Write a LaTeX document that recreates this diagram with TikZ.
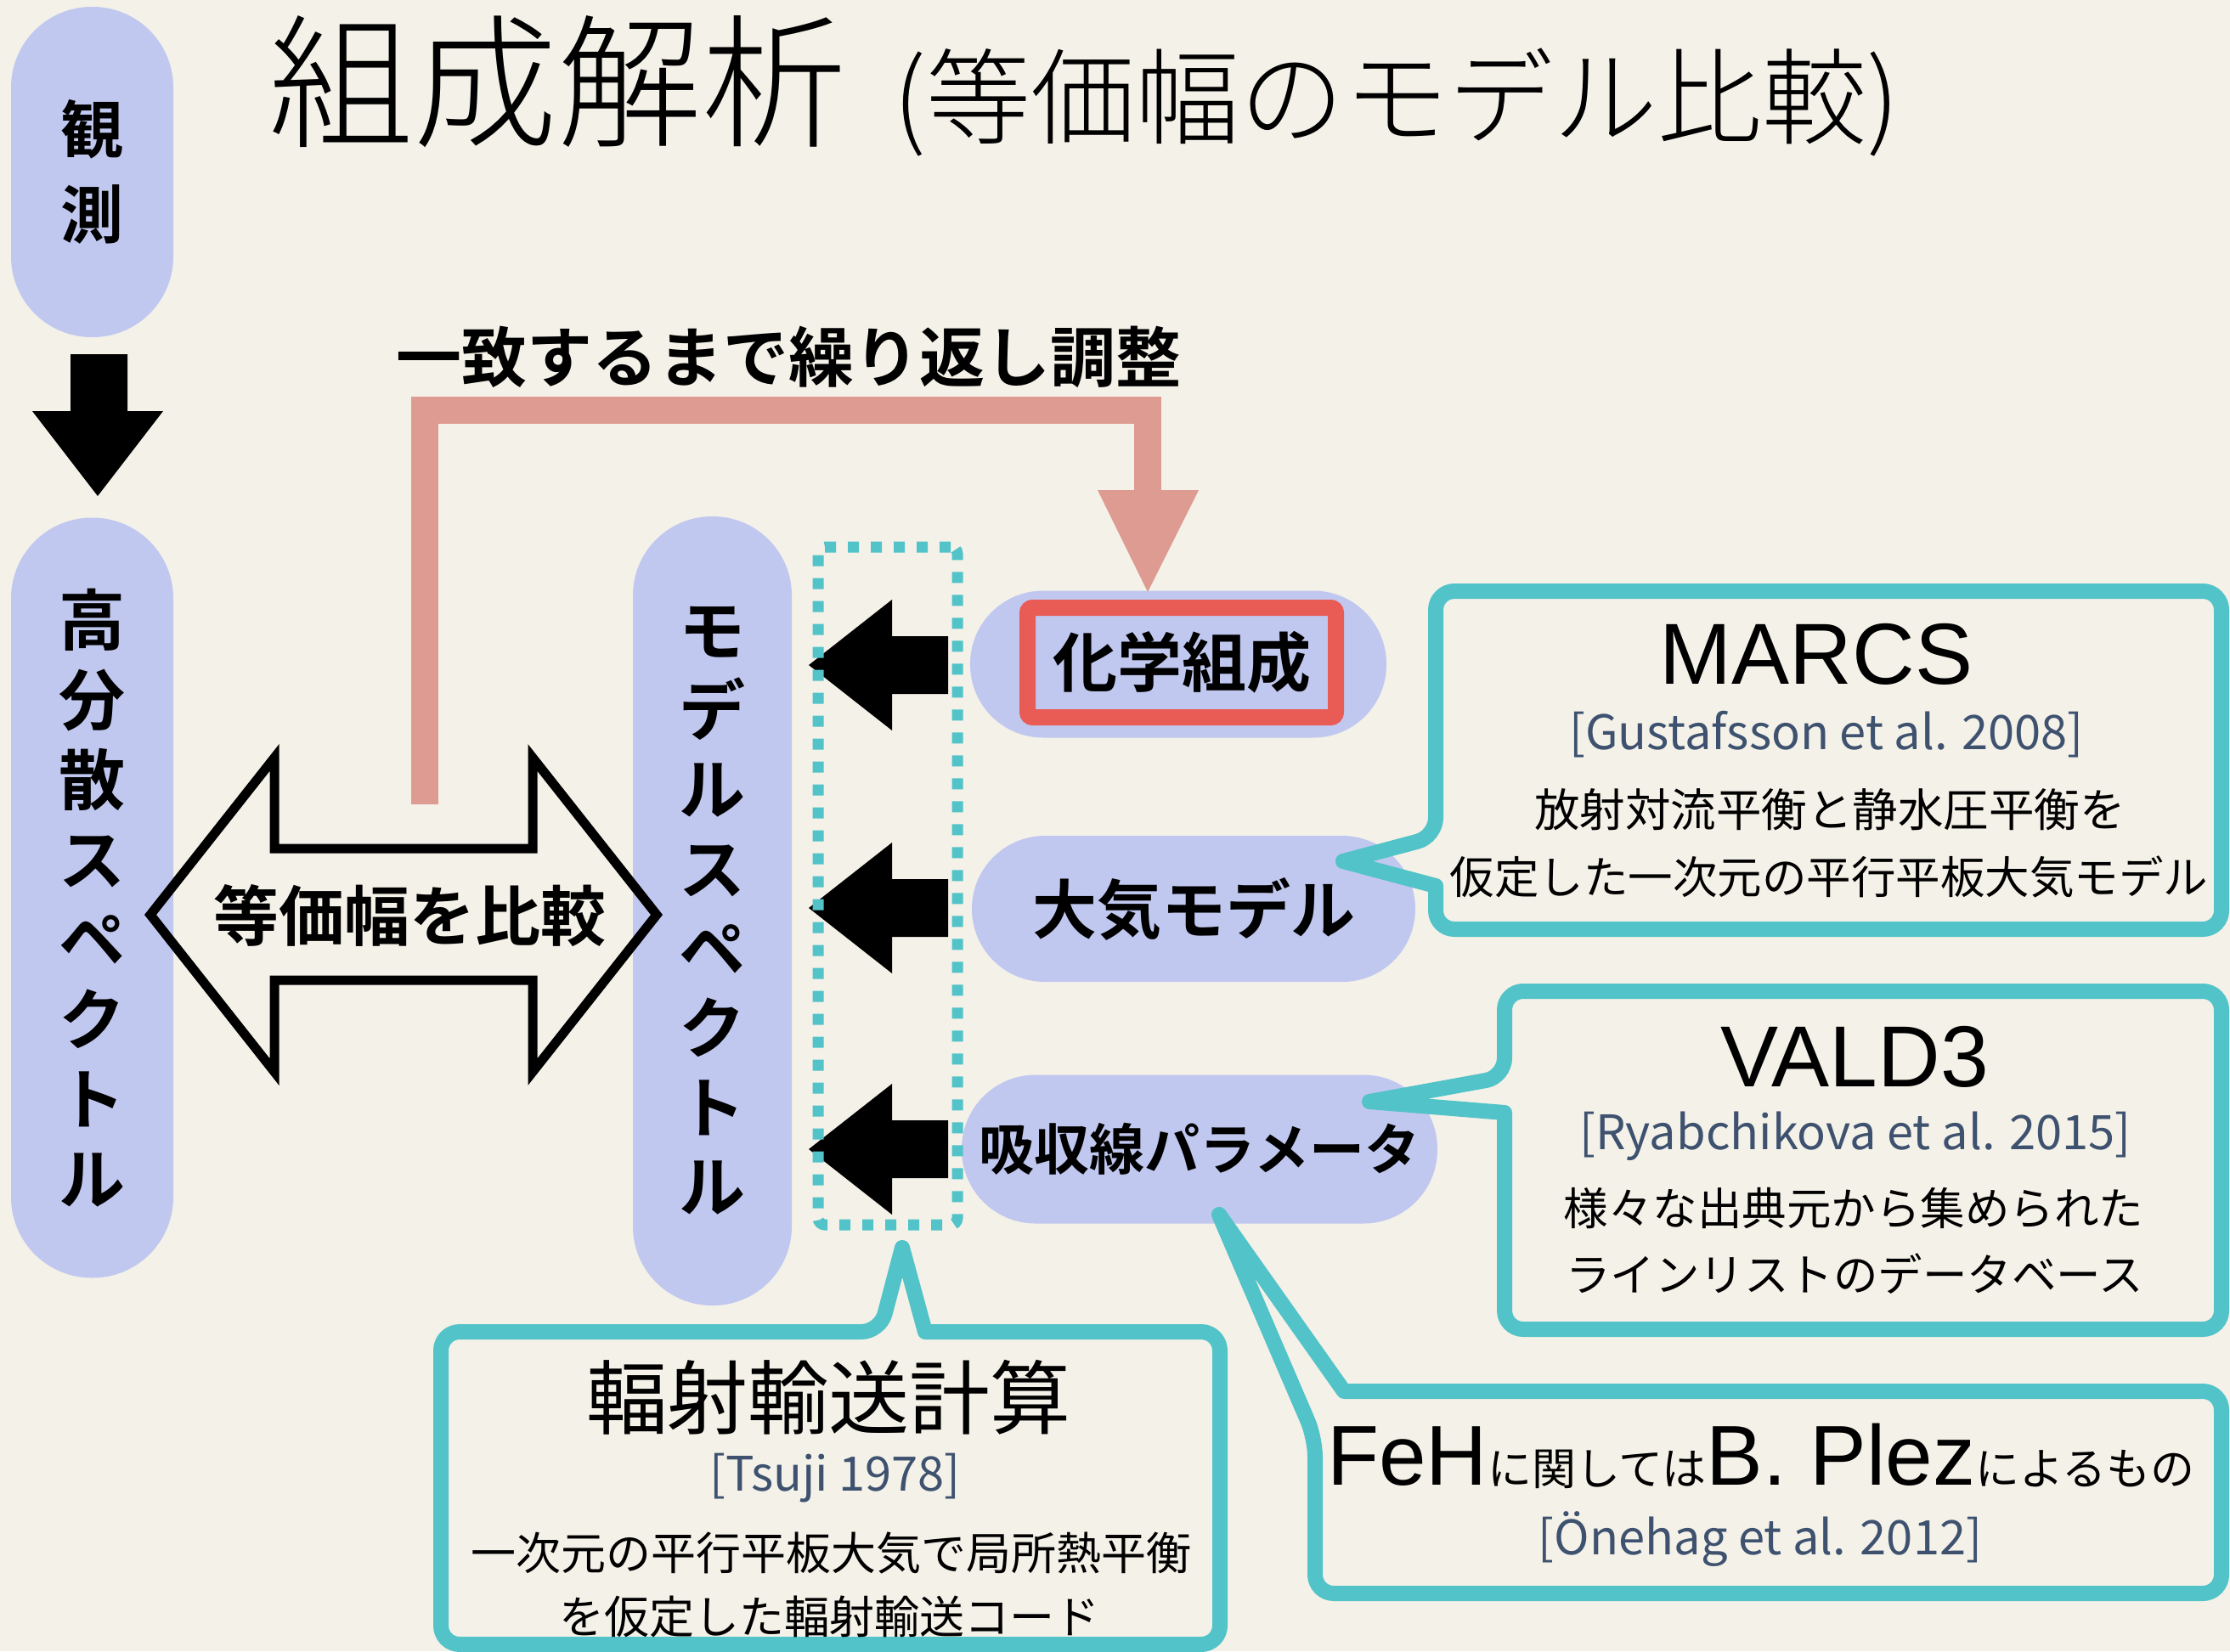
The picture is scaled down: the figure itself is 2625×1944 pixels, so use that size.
\documentclass[tikz,border=0pt]{standalone}
\usepackage{fontspec}
\usetikzlibrary{calc}
\IfFontExistsTF{Noto Sans CJK JP Light}{\newfontfamily\jpl{Noto Sans CJK JP Light}}{\newfontfamily\jpl{Noto Sans CJK JP}}
\IfFontExistsTF{Noto Sans CJK JP Bold}{\newfontfamily\jpb{Noto Sans CJK JP Bold}}{\newfontfamily\jpb{Noto Sans CJK JP}[FakeBold=2]}
\newfontfamily\jpr{Noto Sans CJK JP}
\newfontfamily\lat{Liberation Sans}
\newcommand\myfs[1]{\fontsize{#1}{#1}\selectfont}
\definecolor{bgc}{RGB}{244,241,232}
\definecolor{pillc}{RGB}{192,200,240}
\definecolor{tealc}{RGB}{82,195,200}
\definecolor{pinkc}{RGB}{222,155,146}
\definecolor{redc}{RGB}{233,92,86}
\definecolor{citec}{RGB}{62,82,112}
\tikzset{
  pillbox/.style={fill=pillc, inner sep=0pt},
  callout/.style={draw=tealc, line width=18pt, line join=round},
  cite/.style={font=\jpr\myfs{56}, text=citec},
  blockarrow/.style={fill=black},
}
\begin{document}
\begin{tikzpicture}[x=1pt,y=-1pt]
\useasboundingbox (0,0) rectangle (2625,1944);
\fill[bgc] (0,0) rectangle (2625,1944);

% pills
\node[pillbox, minimum width=191pt, minimum height=389pt, rounded corners=95pt,
      font=\jpb\fontsize{74}{100}\selectfont, align=center] (obs) at (108.5,202.5) {観\\測};
\node[pillbox, minimum width=191pt, minimum height=895pt, rounded corners=95pt,
      font=\jpb\fontsize{78}{94}\selectfont, align=center] (hires) at (108.5,1057) {高\\分\\散\\ス\\ペ\\ク\\ト\\ル};
\node[pillbox, minimum width=187pt, minimum height=929pt, rounded corners=93pt,
      font=\jpb\fontsize{78}{93.6}\selectfont, align=center] (model) at (838.5,1072.5) {モ\\デ\\ル\\ス\\ペ\\ク\\ト\\ル};
\node[pillbox, minimum width=490pt, minimum height=173pt, rounded corners=86pt] (chem) at (1387,782) {};
\node[pillbox, minimum width=522pt, minimum height=172pt, rounded corners=86pt,
      font=\jpb\myfs{76}] (atm) at (1405,1070) {大気モデル};
\node[pillbox, minimum width=560pt, minimum height=175pt, rounded corners=87pt,
      font=\jpb\myfs{65}] (lines) at (1412,1353) {吸収線パラメータ};

% observation -> high dispersion spectrum
\fill (83,417) -- (150,417) -- (150,484) -- (192,484) -- (115,584) -- (38,484) -- (83,484) -- cycle;

% hollow double arrow
\draw[line width=11pt, line join=miter] (177,1077) -- (323,892) -- (323,999) -- (627,999) -- (627,892)
   -- (773,1077) -- (627,1262) -- (627,1154) -- (323,1154) -- (323,1262) -- cycle;
\node[font=\jpb\myfs{77}] (cmp) at (482,1078) {等価幅を比較};

% feedback loop
\coordinate (fbstart) at (500,947);
\coordinate (fbend) at (1351,580);
\draw[pinkc, line width=32pt] (fbstart) -- (fbstart |- 0,483) -- (fbend |- 0,483) -- (fbend);
\fill[pinkc] (1292,577) -- (1411,577) -- (1351,697) -- cycle;
\node[font=\jpb\myfs{77}] (rep) at (928,420) {一致するまで繰り返し調整};

% black left arrows
\foreach \c in {783,1069,1353}
  \fill (1116,\c-34) -- (1050,\c-34) -- (1050,\c-77) -- (952,\c) -- (1050,\c+77) -- (1050,\c+34) -- (1116,\c+34) -- cycle;

% dotted box
\node[draw=tealc, line width=13pt, dash pattern=on 13pt off 14pt, rounded corners=8pt,
      minimum width=164pt, minimum height=798pt, inner sep=0pt] (rt) at (1045,1043) {};

% chemistry red box
\node[draw=redc, line width=19pt, rounded corners=6pt, minimum width=363pt, minimum height=129pt,
      inner sep=0pt, font=\jpb\myfs{76}] (chemtxt) at (1391,780) {化学組成};

% callouts
\draw[callout] (1690,985) -- (1581,1014) -- (1690,1043) [rounded corners=22pt] -- (1690,1094) -- (2615,1094) -- (2615,696) -- (1690,696) -- cycle;
\draw[callout] (1771,1268) -- (1612,1297) -- (1771,1310) [rounded corners=22pt] -- (1771,1565) -- (2615,1565) -- (2615,1167) -- (1771,1167) -- cycle;
\draw[callout] (1548,1693) -- (1435,1430) -- (1582,1638) [rounded corners=22pt] -- (2615,1638) -- (2615,1876) -- (1548,1876) -- cycle;
\draw[callout] (1036,1568) -- (1062,1469) -- (1089,1568) [rounded corners=22pt] -- (1436,1568) -- (1436,1936) -- (519,1936) -- (519,1568) -- cycle;

% callout texts
\node[font=\lat\myfs{102}] (marcs) at (2138,770) {MARCS};
\node[cite] (marcscite) at (2150,865) {[Gustafsson et al. 2008]};
\node[font=\jpr\myfs{53.5}] (marcs1) at (2154,953) {放射対流平衡と静水圧平衡を};
\node[font=\jpr\myfs{52.5}] (marcs2) at (2153,1032) {仮定した一次元の平行平板大気モデル};

\node[font=\lat\myfs{102}] (vald) at (2183,1244) {VALD3};
\node[cite] (valdcite) at (2184,1338) {[Ryabchikova et al. 2015]};
\node[font=\jpr\myfs{52.5}] (vald1) at (2182,1423) {様々な出典元から集められた};
\node[font=\jpr\myfs{52.5}] (vald2) at (2183,1500) {ラインリストのデータベース};

\node[anchor=base] (feh) at (2073,1748) {{\lat\myfs{100}FeH}{\jpr\myfs{52}に関しては}{\lat\myfs{100}B. Plez}{\jpr\myfs{52}によるもの}};
\node[cite] (fehcite) at (2072,1812) {[Önehag et al. 2012]};

\node[font=\jpr\myfs{95}] (rad) at (975,1645) {輻射輸送計算};
\node[cite] (radcite) at (983,1740) {[Tsuji 1978]};
\node[font=\jpr\myfs{53}] (rad1) at (978,1828) {一次元の平行平板大気で局所熱平衡};
\node[font=\jpr\myfs{53}] (rad2) at (976,1903) {を仮定した輻射輸送コード};

% title
\node[anchor=base, font=\jpl] (title) at (1276,160) {{\myfs{170}組成解析}\hspace{55pt}{\myfs{123}(等価幅のモデル比較)}};
\end{tikzpicture}
\end{document}
